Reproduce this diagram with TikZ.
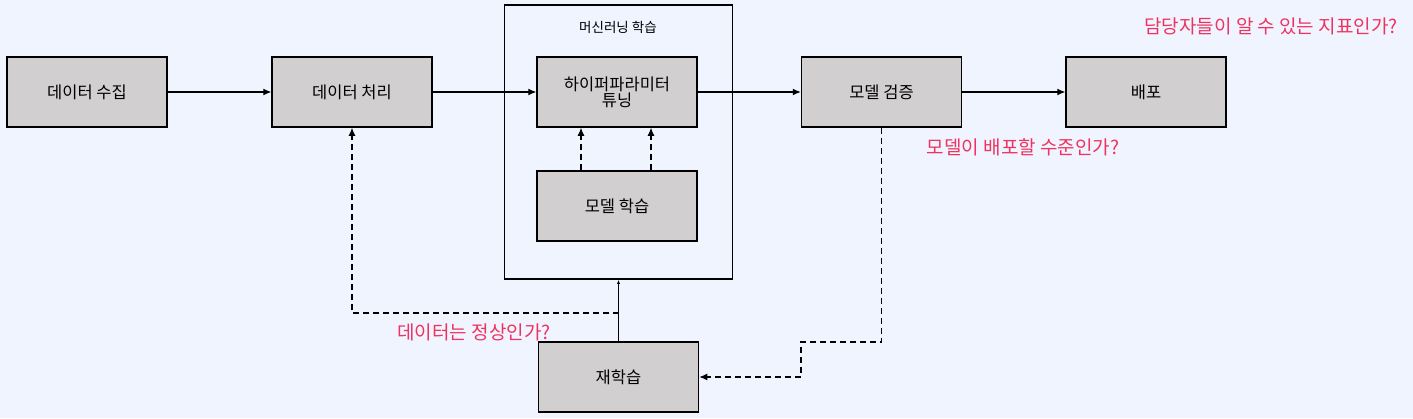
\documentclass[tikz,border=0pt]{standalone}
\usepackage{fontspec}
\setmainfont{Noto Sans CJK KR}
\usetikzlibrary{arrows.meta}
\definecolor{bgcol}{HTML}{F0F4FF}
\definecolor{boxcol}{HTML}{D1CFCF}
\definecolor{askcol}{HTML}{EE3360}
\tikzset{
  box/.style={draw=black, fill=boxcol, line width=1.5pt, minimum width=160pt, minimum height=70pt, align=center, font=\fontsize{16.5}{19}\selectfont, inner sep=0pt},
  flow/.style={line width=1.1pt, -{Latex[length=8pt,width=7pt]}},
  back/.style={line width=1.2pt, dash pattern=on 6pt off 4pt, -{Latex[length=8pt,width=7pt]}},
  ask/.style={text=askcol, font=\fontsize{19}{22}\selectfont, inner sep=0pt},
}
\begin{document}
\begin{tikzpicture}[x=1pt, y=-1pt]
% Canvas
\fill[bgcol] (0,0) rectangle (1413,418);

% Machine learning frame
\node[draw=black, line width=1.5pt, minimum width=228pt, minimum height=274pt, inner sep=0pt] (ml) at (618.5,142) {};
\node[font=\fontsize{13.5}{16}\selectfont, inner sep=0pt] (mltitle) at (618,27) {머신러닝 학습};

% Steps
\node[box] (collect) at (87,92) {데이터 수집};
\node[box] (process) at (352,92) {데이터 처리};
\node[box] (tune) at (617,92) {하이퍼파라미터\\[-3pt]튜닝};
\node[box] (train) at (617,206) {모델 학습};
\node[box] (verify) at (881.5,92) {모델 검증};
\node[box] (deploy) at (1146,92) {배포};
\node[box] (retrain) at (618.5,377) {재학습};

% Questions
\node[ask] (askdeploy) at (1271,26) {담당자들이 알 수 있는 지표인가?};
\node[ask] (askmodel) at (1023,147) {모델이 배포할 수준인가?};
\node[ask] (askdata) at (474,332) {데이터는 정상인가?};

% Main flow
\draw[flow] (collect) -- (process);
\draw[flow] (process) -- (tune);
\draw[flow] (tune) -- (verify);
\draw[flow] (verify) -- (deploy);
\draw[back] ([xshift=-36pt]train.north) -- ([xshift=-36pt]tune.south);
\draw[back] ([xshift=34pt]train.north) -- ([xshift=34pt]tune.south);

% Feedback
\draw[line width=1.1pt, -{Latex[length=4pt,width=3pt]}] (retrain.north) -- (retrain.north |- ml.south);
\coordinate (split) at (619,313);
\coordinate (bend) at (801,342);
\draw[back] (split) -| (process.south);
\draw[back] (verify.south) |- (bend) |- (retrain.east);
\end{tikzpicture}
\end{document}
